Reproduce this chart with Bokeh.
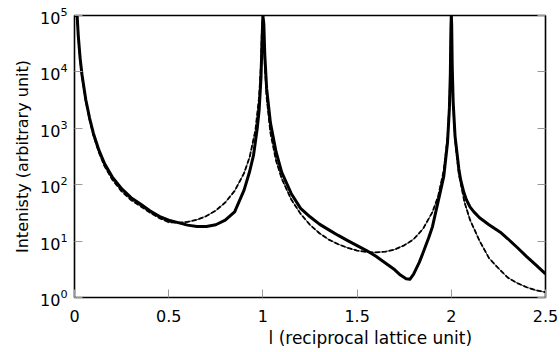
from bokeh.plotting import figure
from bokeh.models import FixedTicker, LogAxis, Title, Range1d
from bokeh.embed import file_html
from bokeh.resources import INLINE

# ideal CTR (dashed)
l_dashed = [0, 0.014, 0.02, 0.03, 0.04, 0.06, 0.08, 0.1, 0.13, 0.16,
            0.2, 0.25, 0.3, 0.35, 0.4, 0.45, 0.5, 0.55, 0.6, 0.65,
            0.7, 0.75, 0.8, 0.85, 0.9, 0.93, 0.96, 0.98, 0.99, 0.995,
            1.0, 1.005, 1.01, 1.02, 1.04, 1.07, 1.1, 1.15, 1.2, 1.25,
            1.3, 1.35, 1.4, 1.45, 1.5, 1.55, 1.6, 1.65, 1.7, 1.75,
            1.8, 1.85, 1.9, 1.93, 1.96, 1.98, 1.99, 1.995, 1.998, 2.0,
            2.002, 2.005, 2.01, 2.02, 2.04, 2.07, 2.1, 2.15, 2.2, 2.25,
            2.3, 2.35, 2.4, 2.45, 2.5]
i_dashed = [1e5, 9.5e4, 4.2e4, 1.64e4, 8300, 3000, 1420, 755, 369, 211,
            124, 76, 53.5, 41.6, 32, 25.6, 21.6, 21.2, 21.9, 23.9,
            27.8, 34.8, 48.3, 77.6, 160, 311, 915, 3600, 14300, 57000,
            1e5, 57000, 14100, 3480, 833, 265, 128, 55, 30.4, 19.4,
            13.8, 10.6, 8.8, 7.6, 6.8, 6.4, 6.3, 6.5, 7.1, 8.4,
            10.8, 16.5, 32.7, 62, 178, 685, 2685, 10700, 66000, 1e5,
            66000, 10400, 2600, 640, 156, 49, 23.5, 10.1, 5.0, 3.3,
            2.25, 1.8, 1.52, 1.34, 1.24]

# measured / model (solid)
l_solid = [0, 0.014, 0.02, 0.03, 0.04, 0.06, 0.08, 0.1, 0.13, 0.16,
           0.2, 0.25, 0.3, 0.35, 0.4, 0.45, 0.5, 0.55, 0.6, 0.65,
           0.7, 0.75, 0.8, 0.85, 0.9, 0.93, 0.95, 0.97, 0.98, 0.99,
           0.995, 1.0, 1.005, 1.01, 1.02, 1.04, 1.07, 1.1, 1.15, 1.2,
           1.25, 1.3, 1.35, 1.4, 1.45, 1.5, 1.55, 1.6, 1.65, 1.7,
           1.73, 1.76, 1.78, 1.8, 1.83, 1.85, 1.88, 1.9, 1.93, 1.96,
           1.98, 1.99, 1.995, 1.998, 2.0, 2.002, 2.005, 2.01, 2.02, 2.04,
           2.05, 2.066, 2.08, 2.1, 2.12, 2.15, 2.2, 2.26, 2.3, 2.35,
           2.4, 2.45, 2.5]
i_solid = [1e5, 1e5, 4.4e4, 1.72e4, 8800, 3200, 1520, 820, 405, 235,
           138, 85, 59, 45.5, 34.5, 27.5, 23.5, 21.3, 19.2, 18.2,
           18.2, 19.5, 23.5, 33, 80, 173, 330, 1000, 2100, 8100,
           32000, 1e5, 70000, 20000, 5000, 1250, 380, 165, 70, 38,
           27, 20, 15.8, 12.6, 10.2, 8.3, 6.8, 5.4, 4.1, 3.1,
           2.5, 2.15, 2.1, 2.6, 4.2, 6.2, 11.5, 18, 50, 140,
           560, 2300, 9500, 60000, 1e5, 70000, 12000, 2900, 720, 190,
           120, 74, 54, 40, 33, 26, 19.5, 14.4, 11, 7.7,
           5.3, 3.75, 2.63]

x_ticks = [0, 0.5, 1, 1.5, 2, 2.5]
x_tick_labels = ["0", "0.5", "1", "1.5", "2", "2.5"]
y_ticks = [1, 10, 100, 1000, 10000, 100000]

FONT = "DejaVu Sans"

p = figure(width=560, height=352, y_axis_type="log",
           x_range=Range1d(0, 2.5), y_range=Range1d(1, 1e5),
           output_backend="svg", toolbar_location=None,
           min_border_left=74, min_border_right=15,
           min_border_top=15, min_border_bottom=55)
p.grid.visible = False
p.outline_line_color = "black"
p.outline_line_width = 1.6
p.background_fill_color = "white"
p.border_fill_color = "white"

# dashed curve: thin line with dashes on it
p.line(l_dashed, i_dashed, line_color="black", line_width=0.8)
p.line(l_dashed, i_dashed, line_color="black", line_width=1.8, line_dash="5 2")
# solid curve
p.line(l_solid, i_solid, line_color="black", line_width=3, line_join="round")

xa = p.xaxis[0]
xa.ticker = FixedTicker(ticks=x_ticks)
xa.major_label_overrides = {t: s for t, s in zip(x_ticks, x_tick_labels)}
ya = p.yaxis[0]
ya.ticker = FixedTicker(ticks=y_ticks)
ya.axis_label = "Intenisty (arbitrary unit)"

for ax in (xa, ya):
    ax.axis_line_color = None
    ax.major_tick_in = 8
    ax.major_tick_out = 0
    ax.major_tick_line_color = "#999999"
    ax.minor_tick_line_color = None
    ax.major_label_text_font = FONT
    ax.major_label_text_font_size = "16px"
    ax.major_label_text_color = "black"
    ax.axis_label_text_font = FONT
    ax.axis_label_text_font_size = "16px"
    ax.axis_label_text_font_style = "normal"
    ax.axis_label_text_color = "black"
xa.major_label_standoff = 12
ya.major_label_standoff = 7
ya.axis_label_standoff = 5

ra = LogAxis(ticker=FixedTicker(ticks=y_ticks))
ra.axis_line_color = None
ra.major_tick_in = 8
ra.major_tick_out = 0
ra.major_tick_line_color = "#999999"
ra.minor_tick_line_color = None
ra.major_label_text_font_size = "1px"
ra.major_label_text_alpha = 0
ra.major_label_standoff = 0
p.add_layout(ra, "right")

xt = Title(text="l (reciprocal lattice unit)", align="left", offset=194,
           text_font=FONT, text_font_size="17px", text_font_style="normal",
           text_color="black", standoff=3)
p.add_layout(xt, "below")

open("out.html", "w").write(file_html(p, INLINE))
